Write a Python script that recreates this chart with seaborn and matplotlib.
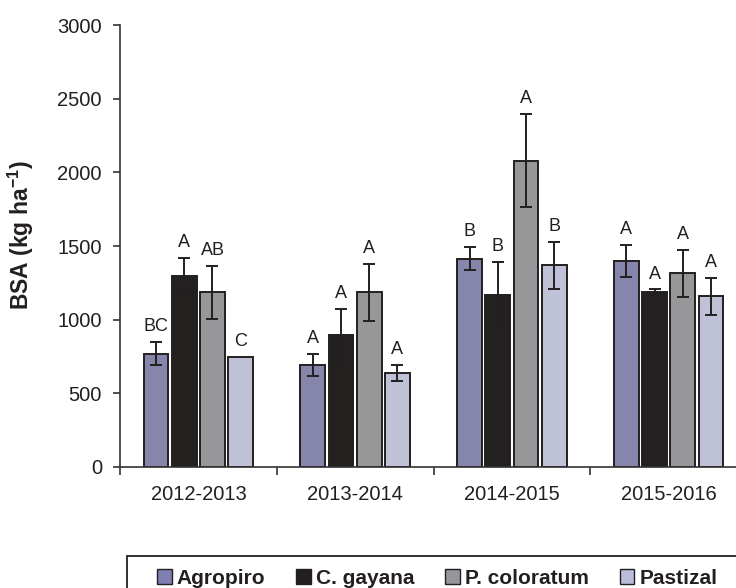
import matplotlib
matplotlib.use("Agg")
import matplotlib.pyplot as plt
import seaborn as sns
import pandas as pd
from matplotlib.patches import Patch, Rectangle

# data
seasons = ["2012-2013", "2013-2014", "2014-2015", "2015-2016"]
species = ["Agropiro", "C. gayana", "P. coloratum", "Pastizal"]

agropiro = [770, 695, 1415, 1400]
c_gayana = [1295, 895, 1170, 1185]
p_coloratum = [1185, 1185, 2080, 1315]
pastizal = [745, 640, 1370, 1160]

agropiro_err = [80, 75, 80, 110]
c_gayana_err = [125, 180, 220, 20]
p_coloratum_err = [180, 195, 315, 160]
pastizal_err = [0, 55, 160, 125]

agropiro_let = ["BC", "A", "B", "A"]
c_gayana_let = ["A", "A", "B", "A"]
p_coloratum_let = ["AB", "A", "A", "A"]
pastizal_let = ["C", "A", "B", "A"]

colors = ["#7f7fb3", "#231f20", "#96979a", "#bbbddb"]
edge = "#231f20"

values = [agropiro, c_gayana, p_coloratum, pastizal]
errors = [agropiro_err, c_gayana_err, p_coloratum_err, pastizal_err]
letters = [agropiro_let, c_gayana_let, p_coloratum_let, pastizal_let]

rows = []
for sp, vals in zip(species, values):
    for s, v in zip(seasons, vals):
        rows.append({"season": s, "species": sp, "bsa": v})
df = pd.DataFrame(rows)

sns.set_style("ticks")
plt.rcParams["font.family"] = ["Liberation Sans", "DejaVu Sans"]
plt.rcParams["mathtext.fontset"] = "custom"
plt.rcParams["mathtext.rm"] = "Liberation Sans"
plt.rcParams["mathtext.bf"] = "Liberation Sans:bold"

fig = plt.figure(figsize=(7.36, 5.88), dpi=100)
ax = fig.add_axes([120 / 736, 121 / 588, 627 / 736, 442 / 588])

sns.barplot(data=df, x="season", y="bsa", hue="species", order=seasons,
            hue_order=species, palette=colors, width=0.72, gap=0.12,
            edgecolor=edge, linewidth=1.4, errorbar=None, legend=False, ax=ax)

# error bars and letters on top of each bar
bars = ax.patches
for i, sp in enumerate(species):
    for j in range(len(seasons)):
        p = bars[i * len(seasons) + j]
        x = p.get_x() + p.get_width() / 2
        h = p.get_height()
        e = errors[i][j]
        if e > 0:
            ax.errorbar(x, h, yerr=e, fmt="none", ecolor=edge, elinewidth=1.4,
                        capsize=4, capthick=1.4, zorder=5)
        ax.annotate(letters[i][j], (x, h + e), xytext=(0, 5),
                    textcoords="offset points", ha="center", va="bottom",
                    fontsize=13, color="#231f20")

ax.set_ylim(0, 3000)
ax.set_yticks(range(0, 3001, 500))
ax.set_xlim(-0.5, 3.5)
ax.set_xticks([-0.5, 0.5, 1.5, 2.5, 3.5])
ax.set_xticklabels([])
ax.set_xticks(range(len(seasons)), minor=True)
ax.set_xticklabels(seasons, minor=True)
ax.tick_params(axis="x", which="minor", length=0, pad=13, labelsize=14.5, labelcolor="#231f20")
ax.tick_params(axis="x", which="major", length=6, width=1.2, color="#333333", direction="out")
ax.tick_params(axis="y", length=5, width=1.2, color="#333333", labelsize=14.5,
               pad=8, labelcolor="#231f20")
ax.set_xlabel("")
ax.set_ylabel("BSA (kg ha$^{\\mathbf{-1}}$)", fontsize=16.5, fontweight="bold", color="#231f20")
ax.yaxis.set_label_coords(-0.134, 0.525)
for s in ["top", "right"]:
    ax.spines[s].set_visible(False)
for s in ["left", "bottom"]:
    ax.spines[s].set_color("#333333")
    ax.spines[s].set_linewidth(1.2)

# legend box (runs off the right and bottom edges like the original)
fig.patches.append(Rectangle((126.7 / 736, -0.05), 0.9, 1 - 556 / 588 + 0.05,
                             transform=fig.transFigure, fill=False,
                             edgecolor="#231f20", linewidth=1.3))

handles = [Patch(facecolor=c, edgecolor=edge, linewidth=1.0, label=l)
           for c, l in zip(colors, species)]
leg = fig.legend(handles=handles, loc="center left", bbox_to_anchor=(157 / 736, 1 - 578 / 588),
                 ncol=4, frameon=False, prop={"weight": "bold", "size": 15},
                 handlelength=0.7, handleheight=0.7, handletextpad=0.25,
                 columnspacing=1.48, borderpad=0, borderaxespad=0)
for t in leg.get_texts():
    t.set_color("#231f20")

fig.savefig("out.png", dpi=100)
